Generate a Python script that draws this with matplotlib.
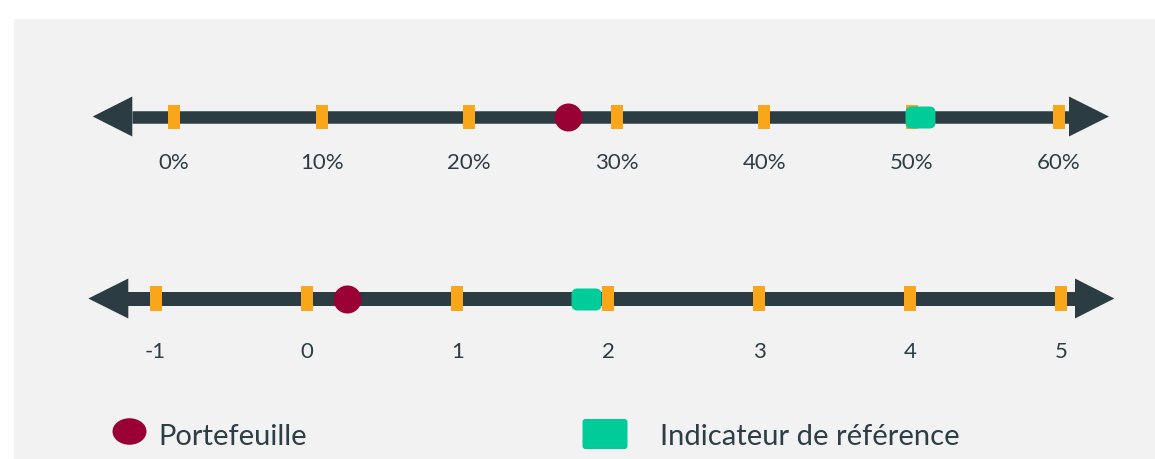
import matplotlib
matplotlib.use("Agg")
import matplotlib.pyplot as plt
import matplotlib.patches as mpatches
from matplotlib.path import Path
import numpy as np

# ---------------- data ----------------
top_ticks = [0, 10, 20, 30, 40, 50, 60]
top_labels = ["0%", "10%", "20%", "30%", "40%", "50%", "60%"]
top_portfolio = 26.7
top_benchmark = 50.6

bottom_ticks = [-1, 0, 1, 2, 3, 4, 5]
bottom_labels = ["-1", "0", "1", "2", "3", "4", "5"]
bottom_portfolio = 0.27
bottom_benchmark = 1.85

legend_labels = ["Portefeuille", "Indicateur de référence"]

# ---------------- style ----------------
W, H = 1155, 460
DPI = 100
PT = 72.0 / DPI  # points per pixel

BG = "#f2f2f2"
LINE = "#2b3c43"
ORANGE = "#f9a61a"
RED = "#990033"
TEAL = "#00cc99"
TEXT = "#2d3e46"
FONT = ["Lato", "DejaVu Sans"]

plt.rcParams["font.family"] = FONT

fig = plt.figure(figsize=(W / DPI, H / DPI), dpi=DPI)
fig.patch.set_facecolor("white")

# base axes in pixel coordinates (background + legend)
base = fig.add_axes([0, 0, 1, 1])
base.set_xlim(0, W)
base.set_ylim(H, 0)
base.axis("off")
base.add_patch(mpatches.Rectangle((14, 20), W - 14, H - 20, facecolor=BG,
                                  edgecolor="none", zorder=0))


def rounded_marker(w, h, r):
    p = mpatches.BoxStyle.Round(pad=0, rounding_size=r)(-w / 2, -h / 2, w, h, 1)
    return Path(p.vertices, p.codes)


bench_marker = rounded_marker(30, 22, 6)


def number_line(ticks, labels, port, bench, zero_px, px_per, y, thick,
                tip_l, base_l, base_r, tip_r, arrow_h, tick_h, label_y):
    ax = fig.add_axes([0, 0, 1, 1])
    ax.set_xlim(-zero_px / px_per, (W - zero_px) / px_per)
    ax.set_ylim(H, 0)
    ax.axis("off")
    ax.patch.set_alpha(0)
    v = lambda px: (px - zero_px) / px_per
    # shaft
    ax.plot([v(base_l), v(base_r)], [y, y], color=LINE, lw=thick * PT,
            solid_capstyle="butt", zorder=2)
    # arrowheads
    ax.add_patch(mpatches.Polygon([[v(tip_l), y], [v(base_l), y - arrow_h / 2],
                                   [v(base_l), y + arrow_h / 2]],
                                  closed=True, facecolor=LINE, edgecolor="none", zorder=2))
    ax.add_patch(mpatches.Polygon([[v(tip_r), y], [v(base_r), y - arrow_h / 2],
                                   [v(base_r), y + arrow_h / 2]],
                                  closed=True, facecolor=LINE, edgecolor="none", zorder=2))
    # ticks
    ax.vlines(ticks, y - tick_h / 2, y + tick_h / 2, color=ORANGE,
              lw=12 * PT, capstyle="butt", zorder=3)
    for t, lab in zip(ticks, labels):
        ax.text(t, label_y, lab, ha="center", va="center", fontsize=16,
                color=TEXT, family=FONT)
    # markers
    ax.plot([port], [y], marker="o", ms=28 * PT, color=RED, mec="none",
            ls="none", zorder=4)
    ax.plot([bench], [y], marker=bench_marker, ms=30 * PT, color=TEAL,
            mec="none", ls="none", zorder=4)
    return ax


number_line(top_ticks, top_labels, top_portfolio, top_benchmark,
            zero_px=174.1, px_per=14.75, y=117.5, thick=12.5,
            tip_l=92.7, base_l=132.3, base_r=1069, tip_r=1109,
            arrow_h=40, tick_h=24, label_y=163)

number_line(bottom_ticks, bottom_labels, bottom_portfolio, bottom_benchmark,
            zero_px=306.5, px_per=150.9, y=299.5, thick=14,
            tip_l=88.3, base_l=128.3, base_r=1075, tip_r=1114.3,
            arrow_h=40, tick_h=25, label_y=352)

# legend
base.add_patch(mpatches.Ellipse((129.5, 432.5), 34, 26.5, facecolor=RED,
                                edgecolor="none", zorder=3))
base.text(158, 445.5, legend_labels[0], ha="left", va="baseline", fontsize=21,
          color=TEXT, family=FONT)
base.add_patch(mpatches.FancyBboxPatch((582.5, 420), 45, 30,
                                       boxstyle="round,pad=0,rounding_size=3",
                                       facecolor=TEAL, edgecolor="none", zorder=3))
base.text(660, 445.5, legend_labels[1], ha="left", va="baseline", fontsize=21,
          color=TEXT, family=FONT)

fig.savefig("out.png", dpi=DPI, facecolor=fig.get_facecolor())
